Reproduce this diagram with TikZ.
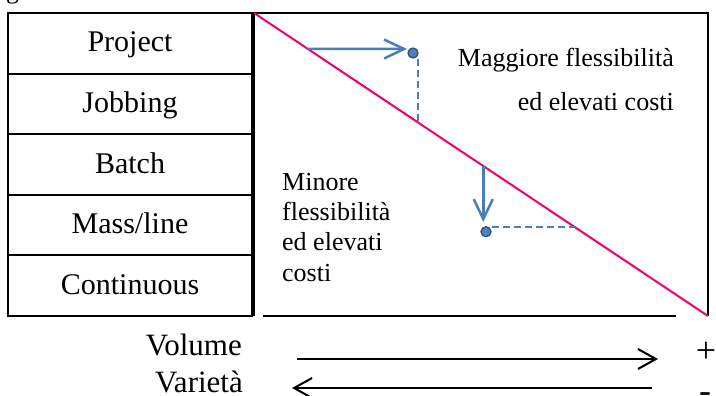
\documentclass[tikz,border=0pt]{standalone}
\usepackage{fontspec}
\setmainfont{Liberation Serif}
\usetikzlibrary{arrows.meta,calc}
\definecolor{redline}{HTML}{F5006A}
\definecolor{blueline}{HTML}{4A7EBB}
\definecolor{dotfill}{HTML}{4F81BD}
\definecolor{dotedge}{HTML}{2F4F80}
\tikzset{
  cell/.style={draw=black, line width=2pt, minimum width=244pt, minimum height=60.6pt,
    inner sep=0pt, font=\fontsize{30}{36}\selectfont, text height=21pt, text depth=3.6pt},
  boxline/.style={draw=black, line width=2pt},
  diag/.style={draw=redline, line width=2pt},
  bluearrow/.style={draw=blueline, line width=2.5pt, -{Straight Barb[length=20pt,width=19pt]}},
  dashline/.style={draw=blueline, line width=1.8pt, dash pattern=on 7pt off 4pt},
  bdot/.style={circle, fill=dotfill, draw=dotedge, line width=1.3pt, minimum size=10pt, inner sep=0pt},
  blackarrow/.style={draw=black, line width=2pt, -{Straight Barb[length=18pt,width=20pt]}},
  sidetext/.style={font=\fontsize{26}{30}\selectfont, inner sep=0pt},
  axtext/.style={font=\fontsize{31}{36}\selectfont, inner sep=0pt},
  signtext/.style={font=\fontsize{36}{40}\selectfont, inner sep=0pt}
}
\begin{document}
\begin{tikzpicture}[x=1pt,y=-1pt]
\useasboundingbox (0,0) rectangle (716,396);
\clip (0,0) rectangle (716,396);
\fill[white] (0,0) rectangle (716,396);

% cropped caption fragment
\node[sidetext, anchor=base west] (cap) at (6,-1) {g};

% left table
\node[cell] (r1) at (130,43.3) {Project};
\node[cell] (r2) at (130,103.9) {Jobbing};
\node[cell] (r3) at (130,164.5) {Batch};
\node[cell] (r4) at (130,225.1) {Mass/line};
\node[cell] (r5) at (130,285.7) {Continuous};

% right box
\coordinate (TL) at (254,13);
\coordinate (BR) at (708,316);
\draw[boxline] (254,316) -- (TL) -- (708,13) -- (BR);
\draw[boxline] (263,316) -- (676,316);
\draw[diag] (TL) -- (BR);

% blue markers
\node[bdot] (d1) at (413,53) {};
\node[bdot] (d2) at (486,231.7) {};
\coordinate (a1s) at ($(TL)!{(49-13)/303}!(BR)$);
\coordinate (a1e) at (407,49);
\draw[bluearrow] (a1s) -- (a1e);
\coordinate (q1) at ($(TL)!0.3606!(BR)$);
\draw[dashline] (q1 |- d1.south) -- (q1);

\coordinate (a2s) at ($(TL)!0.505!(BR)$);
\coordinate (a2e) at ($(a2s |- d2.north)+(0,-4)$);
\draw[bluearrow] (a2s) -- (a2e);
\coordinate (q2) at ($(TL)!0.7071!(BR)$);
\draw[dashline] (d2.east |- q2) -- (q2);

% texts in the box
\node[sidetext, anchor=base east] (mg1) at (674,67) {Maggiore flessibilità};
\node[sidetext, anchor=base east] (mg2) at (674,111) {ed elevati costi};
\node[sidetext, anchor=base west] (mn1) at (282,190) {Minore};
\node[sidetext, anchor=base west] (mn2) at (282,220.5) {flessibilità};
\node[sidetext, anchor=base west] (mn3) at (282,251) {ed elevati};
\node[sidetext, anchor=base west] (mn4) at (282,281.5) {costi};

% axis
\node[axtext, anchor=base east] (vol) at (242,355) {Volume};
\node[axtext, anchor=base east] (var) at (243,392) {Varietà};
\coordinate (v1) at (297,359);
\coordinate (v2) at (658,359);
\draw[blackarrow] (v1) -- (v2);
\coordinate (w1) at (652,388);
\coordinate (w2) at (292,388);
\draw[blackarrow] (w1) -- (w2);
\node[signtext] (plus) at (706,352) {+};
\node[signtext, anchor=base] (minus) at (705,402) {-};
\end{tikzpicture}
\end{document}
